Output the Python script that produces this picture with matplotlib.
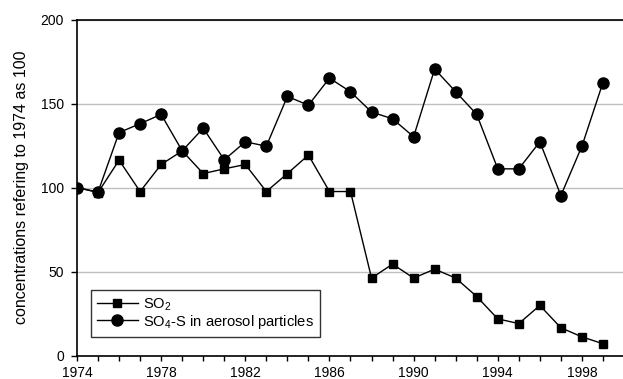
import matplotlib
matplotlib.use("Agg")
import matplotlib.pyplot as plt

plt.rcParams['font.family'] = ['Liberation Sans', 'DejaVu Sans']
plt.rcParams['mathtext.fontset'] = 'custom'
plt.rcParams['mathtext.rm'] = 'Liberation Sans'
plt.rcParams['mathtext.it'] = 'Liberation Sans'

years = list(range(1974, 2000))
so2 = [100, 97, 116.3, 97.6, 113.7, 121.8, 108.3, 111.1, 113.7, 97.6, 108.3, 119.3, 97.6, 97.6,
       46.1, 54.4, 46.1, 51.4, 46.1, 35.1, 21.8, 19.0, 29.8, 16.5, 11.1, 7.0]
so4 = [100, 97.3, 132.7, 138, 143.5, 121.8, 135.3, 116.5, 127.2, 124.6, 154.2, 149, 165.1, 157,
       144.9, 140.9, 130.2, 170.5, 157, 143.5, 111.1, 111.1, 127.2, 95.2, 124.6, 162.5]
xticks = [1974, 1978, 1982, 1986, 1990, 1994, 1998]
yticks = [0, 50, 100, 150, 200]

fig = plt.figure(figsize=(6.23, 3.79), dpi=100)
ax = fig.add_axes([77/623, 23.5/379, 547/623, 336/379])

ax.plot(years, so2, color='black', lw=1, marker='s', markersize=5.3, label='SO$_2$', zorder=3)
ax.plot(years, so4, color='black', lw=1, marker='o', markersize=8, label='SO$_4$-S in aerosol particles', zorder=3)

ax.set_xlim(1974, 2000)
ax.set_ylim(0, 200)
ax.set_xticks(xticks)
ax.set_xticks(years + [2000], minor=True)
ax.set_yticks(yticks)
ax.yaxis.grid(True, color='#c0c0c0', lw=1)
ax.set_axisbelow(True)
ax.tick_params(axis='both', which='both', direction='out', width=1, labelsize=10, color='black')
ax.tick_params(axis='x', which='both', length=3.5, pad=4)
ax.tick_params(axis='y', which='both', length=4.5, pad=5)
for s in ['left', 'bottom', 'top', 'right']:
    ax.spines[s].set_linewidth(1.2)
    ax.spines[s].set_color('black')

ax.set_ylabel('concentrations refering to 1974 as 100', fontsize=11.5, labelpad=8)

leg = ax.legend(loc='lower left', bbox_to_anchor=(0.0256, 0.056), fontsize=10.6, frameon=True,
                fancybox=False, edgecolor='black', handlelength=2.75, handletextpad=0.35,
                borderpad=0.42, labelspacing=0.0, borderaxespad=0)
leg.get_frame().set_linewidth(1)

fig.savefig('out.png', dpi=100)
